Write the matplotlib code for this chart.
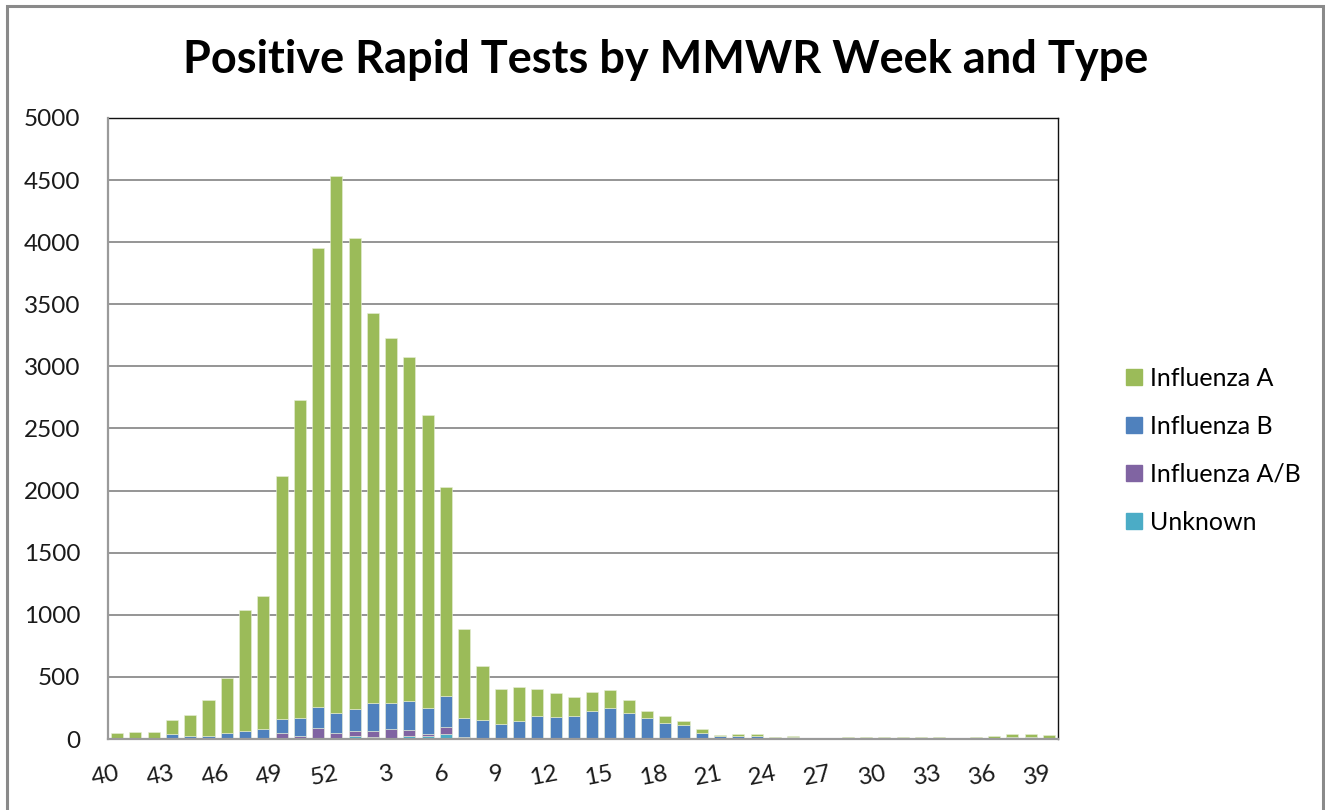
import matplotlib.pyplot as plt
from matplotlib.lines import Line2D
from matplotlib.patches import Rectangle
import numpy as np

plt.rcParams['font.family'] = ['Lato', 'DejaVu Sans']

# MMWR weeks, season order
weeks = list(range(40, 53)) + list(range(1, 40))

flu_a = [45, 55, 55, 112, 163, 290, 448, 970, 1072, 1959, 2558, 3695, 4318,
         3788, 3144, 2938, 2774, 2357, 1683, 717, 433, 287, 268, 215, 193, 153,
         153, 144, 100, 52, 52, 33, 38, 11, 16, 16, 12, 11, 0, 0, 15, 15,
         15, 15, 15, 15, 0, 15, 27, 29, 29, 35]
flu_b = [0, 0, 0, 38, 27, 25, 46, 67, 78, 115, 148, 165, 166,
         175, 221, 210, 228, 213, 250, 156, 149, 117, 147, 189, 179, 189,
         229, 244, 211, 170, 131, 110, 46, 24, 27, 27, 3, 16, 0, 0, 0, 0,
         0, 0, 0, 0, 0, 0, 0, 14, 14, 0]
flu_ab = [0, 0, 0, 0, 0, 0, 0, 0, 0, 46, 24, 90, 46,
          40, 53, 78, 51, 15, 60, 7, 8, 0, 0, 0, 0, 0,
          0, 8, 0, 0, 0, 0, 0, 0, 0, 0, 0, 0, 0, 0, 0, 0,
          0, 0, 0, 0, 0, 0, 0, 0, 0, 0]
unknown = [0, 0, 0, 0, 0, 0, 0, 0, 0, 0, 0, 0, 0,
           27, 14, 5, 25, 25, 37, 8, 0, 0, 0, 0, 0, 0,
           0, 0, 0, 0, 0, 0, 0, 0, 0, 0, 0, 0, 0, 0, 0, 0,
           0, 0, 0, 0, 0, 0, 0, 0, 0, 0]

series = [('Unknown', unknown, '#4BACC6'),
          ('Influenza A/B', flu_ab, '#8064A2'),
          ('Influenza B', flu_b, '#4F81BD'),
          ('Influenza A', flu_a, '#9BBB59')]

fig = plt.figure(figsize=(13.25, 8.1), dpi=100)
ax = fig.add_axes([108 / 1325, 71 / 810, 950 / 1325, 621 / 810])

x = np.arange(len(weeks))
bottom = np.zeros(len(weeks))
for name, vals, col in series:
    vals = np.array(vals)
    ax.bar(x, vals, 0.66, bottom=bottom, color=col, edgecolor='#e8eed8',
           linewidth=0.4, label=name, zorder=3)
    bottom += vals

ax.set_xlim(-0.5, len(weeks) - 0.5)
ax.set_ylim(0, 5000)
ax.set_yticks(np.arange(0, 5001, 500))
ax.yaxis.grid(True, color='#8c8c8c', linewidth=1.3, zorder=0)
ax.set_xticks(x[::3])
ax.set_xticklabels([str(w) for w in weeks[::3]], rotation=11, ha='right',
                   rotation_mode='anchor', va='top')
ax.tick_params(axis='both', length=0, labelsize=17.5, colors='#1a1a1a')
ax.tick_params(axis='x', pad=17)
ax.tick_params(axis='y', pad=20)

for s in ['top', 'right']:
    ax.spines[s].set_color('#111111')
    ax.spines[s].set_linewidth(1.0)
for s in ['left', 'bottom']:
    ax.spines[s].set_color('#9a9a9a')
    ax.spines[s].set_linewidth(1.6)
ax.spines['left'].set_zorder(4)
ax.spines['bottom'].set_zorder(4)

fig.text(0.502, 0.926, 'Positive Rapid Tests by MMWR Week and Type',
         ha='center', va='center', fontsize=32.5, fontweight='bold')

handles = [Line2D([], [], marker='s', linestyle='none', markersize=11,
                  markerfacecolor=col, markeredgecolor=col)
           for name, vals, col in series[::-1]]
labels = [name for name, vals, col in series[::-1]]
fig.legend(handles, labels, loc='center left', bbox_to_anchor=(1113 / 1325, 1 - 450 / 810),
           frameon=False, fontsize=18, handlelength=0.7, handletextpad=0.3,
           labelspacing=1.0, borderpad=0)

# outer chart border
fig.patches.append(Rectangle((7 / 1325, -0.05), 1316 / 1325, 1.05 - 6 / 810,
                             transform=fig.transFigure, fill=False,
                             edgecolor='#8a8a8a', linewidth=2.2))

fig.savefig('out.png', dpi=100)
